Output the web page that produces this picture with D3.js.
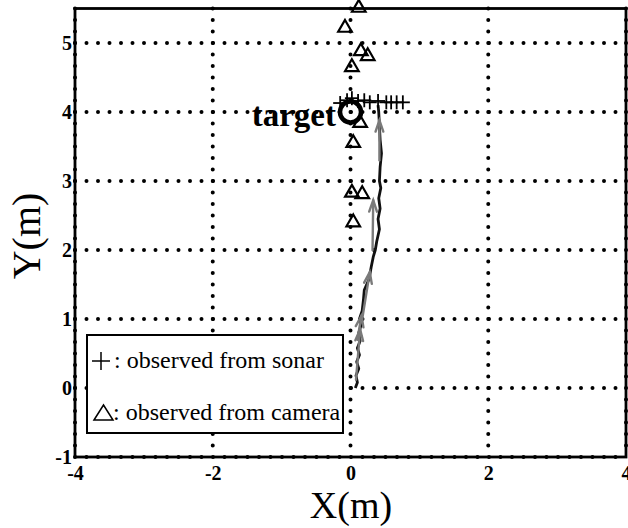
<!DOCTYPE html>
<html><head><meta charset="utf-8">
<script src="https://cdn.jsdelivr.net/npm/d3@7/dist/d3.min.js"></script>
<style>body{margin:0;background:#fff}svg{display:block}</style>
</head><body>
<svg id="c" width="628" height="528"></svg>
<script>
const xTicks = [-4, -2, 0, 2, 4];
const yTicks = [-1, 0, 1, 2, 3, 4, 5];
const trajectory = [
  [0.07,0.0],[0.1,0.08],[0.08,0.18],[0.12,0.28],[0.09,0.38],[0.13,0.48],[0.1,0.58],[0.14,0.68],
  [0.12,0.8],[0.15,0.9],[0.13,1.0],[0.17,1.12],[0.19,1.3],[0.2,1.42],[0.27,1.58],[0.3,1.75],
  [0.33,1.9],[0.36,2.0],[0.38,2.12],[0.42,2.3],[0.4,2.45],[0.43,2.6],[0.41,2.75],[0.44,2.9],
  [0.42,3.0],[0.43,3.2],[0.45,3.4],[0.43,3.6],[0.42,3.8],[0.41,4.0],[0.4,4.1]
];
const arrowStart = [[0.08,0.12],[0.1,0.7],[0.17,1.0],[0.32,2.0],[0.42,3.3]];
const arrowEnd   = [[0.14,0.85],[0.16,1.05],[0.28,1.68],[0.33,2.72],[0.42,3.88]];
const sonarX = [-0.15,-0.05,0.02,0.11,0.2,0.28,0.4,0.52,0.59,0.67,0.76];
const sonarY = [4.13,4.17,4.2,4.16,4.17,4.14,4.16,4.14,4.14,4.14,4.14];
const cameraX = [0.12,-0.08,0.15,0.25,0.02,0.14,0.04,0.02,0.17,0.04];
const cameraY = [5.51,5.22,4.88,4.81,4.65,3.84,3.55,2.83,2.81,2.4];
const target = [0, 4];
const legendLabels = [": observed from sonar", ": observed from camera"];

const svg = d3.select("#c");
const x = d3.scaleLinear([-4, 4], [75, 626]);
const y = d3.scaleLinear([-1, 5.5], [457, 8.5]);
const serif = "'Liberation Serif','Times New Roman',serif";

// grid
const grid = svg.append("g").attr("stroke", "#000").attr("stroke-width", 4)
  .attr("stroke-linecap", "round").attr("stroke-dasharray", "0 11.5");
grid.selectAll("line.v").data(xTicks).join("line").attr("class","v")
  .attr("x1", d => x(d)).attr("x2", d => x(d)).attr("y1", y(5.5)).attr("y2", y(-1));
grid.selectAll("line.h").data(yTicks).join("line").attr("class","h")
  .attr("y1", d => y(d)).attr("y2", d => y(d)).attr("x1", x(-4)).attr("x2", x(4));

// axes
const ax = svg.append("g").attr("transform", `translate(0,${y(-1)})`)
  .call(d3.axisBottom(x).tickValues(xTicks).tickSize(0).tickPadding(9).tickFormat(d3.format("d")));
const ay = svg.append("g").attr("transform", `translate(${x(-4)},0)`)
  .call(d3.axisLeft(y).tickValues(yTicks).tickSize(0).tickPadding(3).tickFormat(d3.format("d")));
[ax, ay].forEach(g => {
  g.select(".domain").remove();
  g.selectAll("text").attr("font-family", serif).attr("font-weight", "bold")
    .attr("font-size", 20).attr("fill", "#000").text(function(){return this.textContent.replace("−","-");});
});

// frame
svg.append("rect").attr("x", x(-4)).attr("y", y(5.5)).attr("width", x(4) - x(-4))
  .attr("height", y(-1) - y(5.5)).attr("fill", "none").attr("stroke", "#000").attr("stroke-width", 2.8);

// trajectory
svg.append("path").datum(trajectory)
  .attr("d", d3.line().x(d => x(d[0])).y(d => y(d[1])))
  .attr("fill", "none").attr("stroke", "#111").attr("stroke-width", 2.8).attr("stroke-linejoin", "round");

// arrows
const arr = svg.append("g").attr("stroke", "#7a7a7a").attr("stroke-width", 2.4).attr("fill", "none")
  .attr("stroke-linecap", "round");
arrowStart.forEach((s, i) => {
  const e = arrowEnd[i];
  const x1 = x(s[0]), y1 = y(s[1]), x2 = x(e[0]), y2 = y(e[1]);
  const ang = Math.atan2(y2 - y1, x2 - x1), L = 12, a = 0.33;
  arr.append("line").attr("x1", x1).attr("y1", y1).attr("x2", x2).attr("y2", y2);
  arr.append("path").attr("d",
    `M${x2 - L*Math.cos(ang - a)},${y2 - L*Math.sin(ang - a)}L${x2},${y2}L${x2 - L*Math.cos(ang + a)},${y2 - L*Math.sin(ang + a)}`);
});

// camera triangles
const tri = d3.symbol().type(d3.symbolTriangle).size(80);
svg.append("g").selectAll("path").data(cameraX).join("path")
  .attr("transform", (d, i) => `translate(${x(d)},${y(cameraY[i])})`)
  .attr("d", tri).attr("fill", "none").attr("stroke", "#000").attr("stroke-width", 2.2);

// target circle
svg.append("circle").attr("cx", x(target[0])).attr("cy", y(target[1])).attr("r", 10.5)
  .attr("fill", "none").attr("stroke", "#000").attr("stroke-width", 4.5);

// sonar plus markers
const pl = svg.append("g").attr("stroke", "#000").attr("stroke-width", 1.8);
sonarX.forEach((d, i) => {
  const cx = x(d), cy = y(sonarY[i]);
  pl.append("line").attr("x1", cx - 7).attr("x2", cx + 7).attr("y1", cy).attr("y2", cy);
  pl.append("line").attr("x1", cx).attr("x2", cx).attr("y1", cy - 7).attr("y2", cy + 7);
});

svg.append("text").attr("x", 336).attr("y", 126).attr("text-anchor", "end")
  .attr("font-family", serif).attr("font-weight", "bold").attr("font-size", 33).text("target");

// legend
const lg = svg.append("g");
lg.append("rect").attr("x", 87).attr("y", 335).attr("width", 256).attr("height", 98)
  .attr("fill", "#fff").attr("stroke", "#000").attr("stroke-width", 2);
lg.append("line").attr("x1", 92).attr("x2", 110).attr("y1", 361).attr("y2", 361).attr("stroke", "#000").attr("stroke-width", 1.5);
lg.append("line").attr("x1", 101).attr("x2", 101).attr("y1", 352).attr("y2", 370).attr("stroke", "#000").attr("stroke-width", 1.5);
lg.append("path").attr("d", "M94,420L103.5,405L113,420Z").attr("fill", "none").attr("stroke", "#000").attr("stroke-width", 1.5);
lg.selectAll("text").data(legendLabels).join("text")
  .attr("x", (d, i) => i === 0 ? 114 : 113).attr("y", (d, i) => i === 0 ? 368 : 420)
  .attr("font-family", serif).attr("font-size", 24).text(d => d);

// axis titles
svg.append("text").attr("x", 351).attr("y", 518).attr("text-anchor", "middle")
  .attr("font-family", serif).attr("font-size", 38).text("X(m)");
svg.append("text").attr("transform", "translate(40,236) rotate(-90)").attr("text-anchor", "middle")
  .attr("font-family", serif).attr("font-size", 40).text("Y(m)");
</script>
</body></html>
